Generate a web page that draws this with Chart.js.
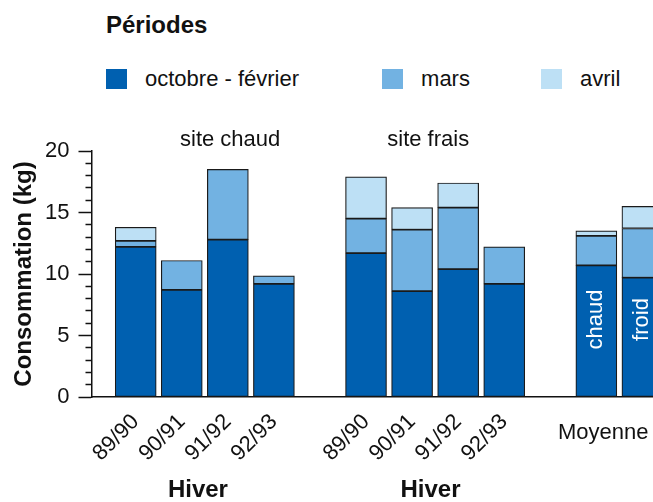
<!DOCTYPE html>
<html>
<head>
<meta charset="utf-8">
<script src="https://cdn.jsdelivr.net/npm/chart.js@4.4.0/dist/chart.umd.min.js"></script>
<style>
    html, body { margin: 0; padding: 0; background: #fff; overflow: hidden; }
    #wrap { position: relative; width: 653px; height: 502px; }
    #consoChart { position: absolute; left: 0; top: 0; }
    #legend { position: absolute; left: 106px; top: 12px; width: 547px; font-family: 'Liberation Sans', Arial, sans-serif; color: #111; }
    #legend .title { font-weight: bold; font-size: 24px; line-height: 26px; }
    #legend ul { list-style: none; margin: 28px 0 0 0; padding: 0; display: flex; }
    #legend li { display: flex; align-items: center; font-size: 22px; margin-right: 71px; white-space: nowrap; flex-shrink: 0; }
    #legend li:first-child { margin-right: 83px; }
    #legend .box { width: 21px; height: 20px; margin-right: 18px; flex-shrink: 0; }
</style>
</head>
<body>
<div id="wrap">
    <div id="legend"><div class="title">Périodes</div><ul></ul></div>
    <canvas id="consoChart" width="653" height="502"></canvas>
</div>
<script>
// hivers, site chaud | site frais | moyenne (chaud, froid)
const hivers = ['89/90', '90/91', '91/92', '92/93', '', '89/90', '90/91', '91/92', '92/93', '', '', ''];
const octobreFevrier = [12.2, 8.7, 12.8, 9.2, null, 11.7, 8.6, 10.4, 9.2, null, 10.7, 9.7];
const mars = [0.5, 2.4, 5.7, 0.65, null, 2.8, 5.0, 5.0, 3.0, null, 2.4, 4.0];
const avril = [1.1, null, null, null, null, 3.4, 1.8, 2.0, null, null, 0.4, 1.8];

const periodes = ['octobre - février', 'mars', 'avril'];
const couleurs = ['#0060b0', '#72b2e2', '#bde0f5'];

function points(values) {
    return values.map((v, i) => ({ x: i, y: v })).filter(p => p.y !== null);
}

// text placed around the bars (x in bar index units)
const notes = [
    { text: 'site chaud', x: 2.05, where: 'top' },
    { text: 'site frais', x: 6.35, where: 'top' },
    { text: 'Moyenne', x: 10.15, where: 'axis' },
    { text: 'Hiver', x: 1.35, where: 'bottom', bold: true },
    { text: 'Hiver', x: 6.4, where: 'bottom', bold: true },
    { text: 'chaud', x: 10, where: 'bar' },
    { text: 'froid', x: 11, where: 'bar' }
];

const notesPlugin = {
    id: 'notes',
    afterDraw(chart) {
        const ctx = chart.ctx;
        const xs = chart.scales.x, ys = chart.scales.y;
        const area = chart.chartArea;
        ctx.save();
        ctx.textAlign = 'center';
        ctx.textBaseline = 'middle';
        notes.forEach(n => {
            const px = xs.getPixelForValue(n.x);
            ctx.font = (n.bold ? 'bold 24px' : '22px') + " 'Liberation Sans', Arial, sans-serif";
            ctx.fillStyle = '#111';
            if (n.where === 'top') {
                ctx.fillText(n.text, px, area.top - 11);
            } else if (n.where === 'axis') {
                ctx.fillText(n.text, px, area.bottom + 36);
            } else if (n.where === 'bottom') {
                ctx.fillText(n.text, px, chart.height - 12);
            } else {
                ctx.save();
                ctx.translate(px, ys.getPixelForValue(6.3));
                ctx.rotate(-Math.PI / 2);
                ctx.fillStyle = '#fff';
                ctx.fillText(n.text, 0, 0);
                ctx.restore();
            }
        });
        ctx.restore();
    }
};

const htmlLegend = {
    id: 'htmlLegend',
    afterUpdate(chart) {
        const ul = document.querySelector('#legend ul');
        ul.innerHTML = '';
        chart.data.datasets.forEach(ds => {
            const li = document.createElement('li');
            const box = document.createElement('span');
            box.className = 'box';
            box.style.background = ds.backgroundColor;
            li.appendChild(box);
            li.appendChild(document.createTextNode(ds.label));
            ul.appendChild(li);
        });
    }
};

document.addEventListener('DOMContentLoaded', function () {
    Chart.defaults.font.family = "'Liberation Sans', Arial, sans-serif";
    Chart.defaults.color = '#111';

    const ctx = document.getElementById('consoChart').getContext('2d');
    new Chart(ctx, {
        type: 'bar',
        data: {
            datasets: [octobreFevrier, mars, avril].map((vals, k) => ({
                label: periodes[k],
                data: points(vals),
                backgroundColor: couleurs[k],
                borderColor: '#1a1a1a',
                borderWidth: 1.2,
                borderSkipped: false,
                barThickness: 41
            }))
        },
        plugins: [notesPlugin, htmlLegend],
        options: {
            responsive: false,
            animation: false,
            layout: { padding: { top: 151, left: 0, right: 0, bottom: 0 } },
            plugins: {
                legend: { display: false },
                tooltip: { enabled: false }
            },
            scales: {
                x: {
                    type: 'linear',
                    stacked: true,
                    offset: false,
                    min: -0.96,
                    max: 11.23,
                    afterBuildTicks: s => { s.ticks = hivers.map((h, i) => ({ value: i })); },
                    afterFit: s => { s.height = 105; s.paddingLeft = 0; s.paddingRight = 0; },
                    grid: { display: false },
                    border: { display: true, color: '#111', width: 1.5 },
                    ticks: {
                        autoSkip: false,
                        maxRotation: 45,
                        minRotation: 45,
                        padding: 4,
                        font: { size: 22 },
                        callback: v => hivers[v] ?? ''
                    }
                },
                y: {
                    stacked: true,
                    min: 0,
                    max: 20,
                    afterFit: s => { s.width = 91.5; },
                    border: { color: '#111', width: 1.5 },
                    grid: {
                        drawOnChartArea: false,
                        tickLength: 13,
                        tickWidth: 1.5,
                        tickColor: '#111',
                        tickBorderDash: c => (c.tick && c.tick.value % 5 !== 0) ? [0, 7, 6] : []
                    },
                    ticks: {
                        stepSize: 1,
                        autoSkip: false,
                        padding: 9,
                        font: { size: 22 },
                        callback: v => v % 5 === 0 ? v : ''
                    },
                    title: {
                        display: true,
                        text: 'Consommation (kg)',
                        font: { size: 24, weight: 'bold' },
                        padding: { top: 10, bottom: 0 }
                    }
                }
            }
        }
    });
});
</script>
</body>
</html>
